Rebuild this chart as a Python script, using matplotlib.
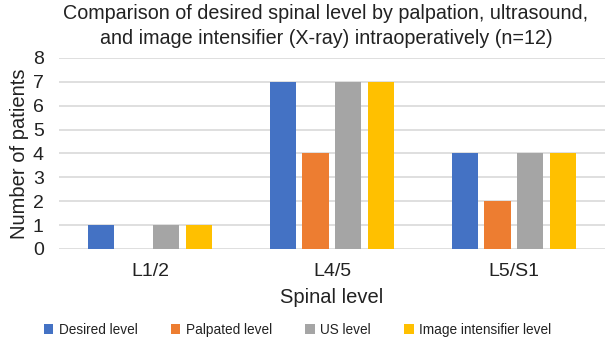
import numpy as np
import matplotlib
matplotlib.use("Agg")
import matplotlib.pyplot as plt
from matplotlib.patches import Patch

# data
levels = ["L1/2", "L4/5", "L5/S1"]
series = ["Desired level", "Palpated level", "US level", "Image intensifier level"]
desired = [1, 7, 4]
palpated = [0, 4, 2]
us = [1, 7, 4]
image_int = [1, 7, 4]
colors = ["#4472C4", "#ED7D31", "#A5A5A5", "#FFC000"]

plt.rcParams["font.family"] = ["Liberation Sans", "DejaVu Sans"]

fig = plt.figure(figsize=(6.08, 3.41), dpi=100)
ax = fig.add_axes([0.097, 0.270, 0.898, 0.560])

x = np.arange(len(levels))
step = 0.181
width = 0.143
values = [desired, palpated, us, image_int]
for i, (vals, c) in enumerate(zip(values, colors)):
    ax.bar(x + (i - 1.5) * step, vals, width, color=c, zorder=3)

ax.set_xlim(-0.5, 2.5)
ax.set_ylim(0, 8)
ax.set_yticks(range(0, 9))
ax.set_xticks(x)
ax.set_xticklabels(levels)
ax.grid(axis="y", color="#D9D9D9", linewidth=1.2, zorder=0)
for s in ax.spines.values():
    s.set_visible(False)
ax.tick_params(axis="both", length=0, labelsize=14, colors="#222222")
ax.tick_params(axis="x", pad=10)
ax.tick_params(axis="y", pad=11)

ax.set_xlabel("Spinal level", fontsize=14.5, color="#222222", labelpad=6)
ax.set_ylabel("Number of patients", fontsize=14.5, color="#222222")
ax.yaxis.set_label_coords(-0.055, 0.5)

fig.text(0.536, 1 - 4 / 341,
         "Comparison of desired spinal level by palpation, ultrasound,\n"
         "and image intensifier (X-ray) intraoperatively (n=12)",
         ha="center", va="top", fontsize=14.2, color="#222222", linespacing=1.42)

handles = [Patch(facecolor=c, edgecolor="none") for c in colors]
fig.legend(handles, series, loc="center", bbox_to_anchor=(0.489, 0.033), ncol=4,
           frameon=False, fontsize=9.8, handlelength=0.7, handleheight=0.7,
           handletextpad=0.4, columnspacing=2.45, labelcolor="#222222")

fig.savefig("out.png", dpi=100)
